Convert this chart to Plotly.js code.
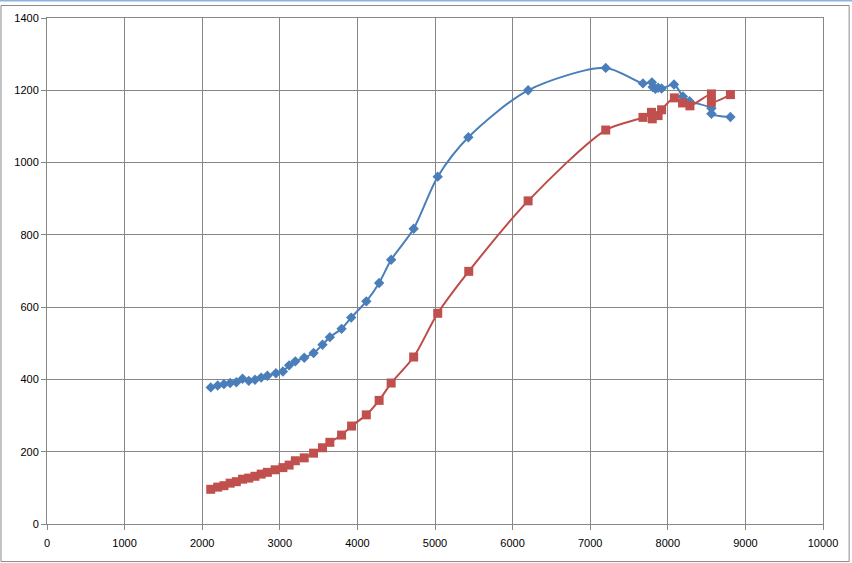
<!DOCTYPE html>
<html>
<head>
<meta charset="utf-8">
<script src="https://cdn.plot.ly/plotly-3.0.1.min.js"></script>
<style>
  html, body { margin: 0; padding: 0; background: #fff; }
  #chart { width: 852px; height: 563px; }
</style>
</head>
<body>
<div id="chart"></div>
<script>
const blueX = [2110, 2200, 2280, 2360, 2440, 2520, 2600, 2680, 2760, 2840,
  2950, 3040, 3120, 3200, 3315, 3435, 3550, 3645, 3796, 3920,
  4115, 4280, 4435, 4725, 5035, 5430, 6200, 7200, 7680, 7795,
  7805, 7840, 7875, 7920, 8080, 8195, 8280, 8562, 8562, 8807];
const blueY = [378, 383, 387, 390, 392, 402, 396, 399, 405, 410,
  417, 422, 439, 450, 460, 473, 496, 517, 540, 571,
  616, 667, 731, 817, 961, 1070, 1200, 1262, 1219, 1222,
  1209, 1204, 1207, 1205, 1216, 1183, 1170, 1150, 1135, 1126];

const redX = [2110, 2200, 2280, 2360, 2440, 2520, 2600, 2680, 2760, 2840,
  2940, 3040, 3120, 3200, 3315, 3435, 3550, 3645, 3796, 3925,
  4115, 4280, 4435, 4725, 5035, 5435, 6200, 7200, 7680, 7790,
  7800, 7875, 7920, 8085, 8190, 8285, 8562, 8562, 8807];
const redY = [96, 102, 106, 113, 117, 124, 127, 132, 138, 143,
  150, 156, 163, 175, 183, 196, 211, 226, 246, 271,
  302, 342, 390, 462, 583, 699, 894, 1090, 1125, 1139,
  1121, 1130, 1146, 1179, 1165, 1157, 1190, 1167, 1188];

const grid = "#868686";

const traces = [
  {
    x: blueX, y: blueY,
    mode: "lines+markers",
    line: { color: "#4A7EBB", width: 2, shape: "spline", smoothing: 0.8 },
    marker: { symbol: "diamond", size: 8, color: "#4A7EBB" }
  },
  {
    x: redX, y: redY,
    mode: "lines+markers",
    line: { color: "#BE4B48", width: 2, shape: "spline", smoothing: 0.8 },
    marker: { symbol: "square", size: 9, color: "#C0504D" }
  }
];

// frame around the whole chart, in paper units
const frame = { l: -0.0593, r: 1.0337, t: 1.0247, b: -0.0742 };

const layout = {
  width: 852, height: 563,
  margin: { l: 47, r: 29, t: 18, b: 39 },
  paper_bgcolor: "#fff",
  plot_bgcolor: "#fff",
  showlegend: false,
  hovermode: false,
  font: { family: "Liberation Sans, Arial, sans-serif", size: 11, color: "#000" },
  xaxis: {
    range: [0, 10000], dtick: 1000, tick0: 0, tickformat: "d",
    showgrid: true, gridcolor: grid, gridwidth: 1,
    showline: true, linecolor: grid, linewidth: 1, mirror: true,
    zeroline: false,
    ticks: "outside", ticklen: 5, tickcolor: grid, ticklabelstandoff: 4,
    fixedrange: true
  },
  yaxis: {
    range: [0, 1400], dtick: 200, tick0: 0, tickformat: "d",
    showgrid: true, gridcolor: grid, gridwidth: 1,
    showline: true, linecolor: grid, linewidth: 1, mirror: true,
    zeroline: false,
    ticks: "outside", ticklen: 5, tickcolor: grid,
    fixedrange: true
  },
  shapes: [
    { type: "rect", xref: "paper", yref: "paper",
      x0: frame.l, x1: frame.r, y0: frame.b, y1: frame.t,
      line: { color: "#8a8a8a", width: 1 }, layer: "below" },
    { type: "line", xref: "paper", yref: "paper",
      x0: -0.07, x1: 1.05, y0: 1.0346, y1: 1.0346,
      line: { color: "#8DB3E2", width: 2 } }
  ]
};

Plotly.newPlot("chart", traces, layout, { displayModeBar: false, staticPlot: true });
</script>
</body>
</html>
